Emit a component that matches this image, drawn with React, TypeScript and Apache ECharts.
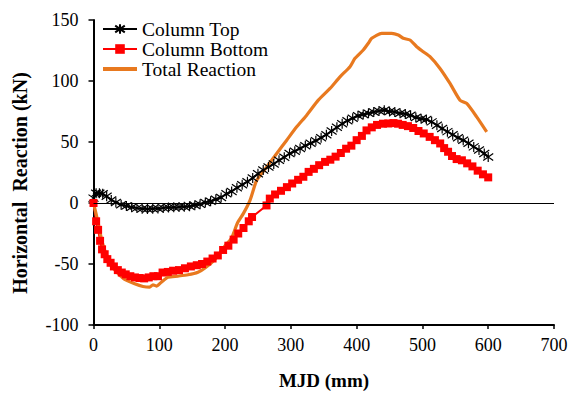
import React, { useEffect, useRef } from "react";
import * as echarts from "echarts";

const seriesNames = ["Column Top", "Column Bottom", "Total Reaction"];
const xAxisTitle = "MJD (mm)";
const yAxisTitle = "Horizontal  Reaction (kN)";

const columnTop: [number, number][] = [
  [0, 4], [4, 8], [9, 8], [14, 7.5], [20, 5.5], [27, 2.5], [34, 0.5], [42, -1.5],
  [50, -2.5], [58, -3.5], [66, -4.2], [74, -4.7], [82, -5], [90, -4.8], [98, -4.5],
  [106, -4], [114, -3.6], [122, -3.4], [130, -3.3], [138, -3.1], [146, -2.6],
  [154, -1.8], [162, -1], [170, 0.5], [178, 1.5], [186, 3], [194, 4.5], [202, 7.5],
  [210, 9.5], [218, 12.5], [226, 15], [234, 17.5], [242, 20.5], [250, 24], [258, 27],
  [266, 29.5], [274, 32], [282, 35], [290, 37.5], [298, 40.5], [306, 42.5],
  [314, 44.7], [322, 47], [330, 49], [338, 51], [346, 53.5], [354, 56], [362, 59],
  [370, 62], [378, 65], [386, 67.5], [394, 69.5], [402, 71.5], [410, 72.5],
  [418, 73.5], [426, 74.5], [434, 75.5], [442, 76], [450, 75], [458, 74.5],
  [466, 73.5], [474, 73], [482, 72], [490, 70], [498, 69], [506, 68.5], [514, 66.5],
  [522, 63.8], [530, 61], [538, 58.5], [546, 56], [554, 53.5], [562, 51.5],
  [570, 49], [578, 46], [586, 43.5], [594, 40.5], [600, 37.8],
];

const columnBottom: [number, number][] = [
  [0, 0], [4, -15], [7, -22], [10, -31], [13, -38], [17, -42], [21, -46], [26, -49],
  [31, -52], [37, -55], [43, -57], [49, -58.5], [56, -60], [63, -61], [70, -61.5],
  [77, -61.8], [84, -61], [91, -60], [98, -60], [105, -57], [113, -56.5],
  [121, -55.5], [130, -55], [139, -53.5], [148, -52], [157, -51], [165, -50],
  [173, -48], [181, -45.5], [189, -43], [197, -38.5], [205, -35], [213, -30],
  [220, -25], [228, -20.5], [236, -15], [241, -11.5], [263, -2], [268, 3.6],
  [276, 7], [285, 10], [294, 13], [302, 16], [311, 19], [319, 21.5], [327, 25.5],
  [335, 28], [343, 31], [352, 33.7], [360, 35.5], [368, 38], [376, 41], [384, 44.5],
  [392, 47], [400, 51.5], [408, 55], [415, 59.5], [423, 62], [431, 64], [440, 65],
  [448, 65.2], [456, 65.5], [463, 65], [470, 64], [478, 63], [486, 61.5], [494, 59],
  [502, 57], [511, 54.2], [519, 51.5], [527, 48.8], [533, 45], [539, 42],
  [545, 38.5], [552, 36], [560, 35], [568, 32.5], [576, 30], [584, 26.5],
  [592, 23.5], [600, 21],
];

const totalReaction: [number, number][] = [
  [0, 0], [6.8, -15.6], [11.9, -29], [17, -38.8], [27.1, -51.1], [37.2, -57.7],
  [47.4, -62.6], [62.6, -66.2], [75.2, -68.4], [85.4, -69], [90.4, -67],
  [95.5, -68.1], [103.1, -64.9], [113.2, -60.8], [128.4, -59.9], [143.6, -58.8],
  [158.8, -56.7], [170, -53], [185, -46], [200, -35], [209.5, -29.2], [219, -16.2],
  [227.7, -8.7], [237.9, 2.2], [248.1, 18.6], [263.3, 29.6], [278.5, 40.6],
  [293.7, 51.5], [308.9, 62.4], [324.1, 72], [341.7, 84.3], [359.5, 93.9],
  [374.7, 103.4], [389.9, 111.7], [397.5, 118.6], [410.1, 125.4], [417.7, 130.9],
  [422.9, 135], [438.1, 139.1], [453.3, 139.1], [463.3, 137.7], [470.9, 135],
  [481.1, 133.6], [491.3, 128.1], [501.3, 124], [511.5, 119.9], [526.7, 110.3],
  [541.9, 98], [557.1, 84.3], [567.3, 81.6], [582.5, 70.6], [597.7, 58.3],
];

const FONT = "Liberation Serif";
const STAR = "path://M5,0L5,10M1.5,1.5L8.5,8.5M1.5,8.5L8.5,1.5";

export default function App() {
  const ref = useRef<HTMLDivElement>(null);
  useEffect(() => {
    const chart = echarts.init(ref.current!, null, { renderer: "svg" });
    chart.setOption({
      animation: false,
      backgroundColor: "#fff",
      textStyle: { fontFamily: FONT },
      grid: { left: 93.5, right: 19, top: 20, bottom: 71 },
      legend: {
        orient: "vertical",
        left: 101,
        top: 19,
        padding: 0,
        itemWidth: 34,
        itemHeight: 12,
        itemGap: 0,
        data: [
          { name: seriesNames[0], lineStyle: { width: 2 } },
          { name: seriesNames[1], lineStyle: { width: 2 } },
          {
            name: seriesNames[2],
            lineStyle: { width: 4 },
            itemStyle: { color: "rgba(0,0,0,0)", opacity: 0, borderWidth: 0 },
          },
        ],
        textStyle: { fontFamily: FONT, fontSize: 19.5, color: "#000", lineHeight: 20 },
      },
      xAxis: {
        type: "value",
        min: 0,
        max: 700,
        interval: 100,
        axisLine: { show: true, onZero: false, lineStyle: { color: "#000", width: 2 } },
        axisTick: { show: true, length: 4, lineStyle: { color: "#000", width: 1.5 } },
        axisLabel: { fontFamily: FONT, fontSize: 18, color: "#000", margin: 11 },
        splitLine: { show: false },
      },
      yAxis: {
        type: "value",
        min: -100,
        max: 150,
        interval: 50,
        axisLine: { show: true, onZero: false, lineStyle: { color: "#000", width: 2 } },
        axisTick: { show: true, length: 5, lineStyle: { color: "#000", width: 1.5 } },
        axisLabel: { fontFamily: FONT, fontSize: 18, color: "#000", margin: 15 },
        splitLine: { show: false },
      },
      graphic: [
        {
          type: "text",
          x: 324,
          y: 380,
          style: {
            text: xAxisTitle,
            fontFamily: FONT,
            fontSize: 19,
            fontWeight: "bold",
            fill: "#000",
            textAlign: "center",
            textVerticalAlign: "middle",
          },
        },
        {
          type: "text",
          x: 20,
          y: 183,
          rotation: Math.PI / 2,
          style: {
            text: yAxisTitle,
            fontFamily: FONT,
            fontSize: 20,
            fontWeight: "bold",
            fill: "#000",
            textAlign: "center",
            textVerticalAlign: "middle",
          },
        },
      ],
      series: [
        {
          name: seriesNames[0],
          type: "line",
          data: columnTop,
          symbol: STAR,
          symbolSize: 10,
          showAllSymbol: true,
          lineStyle: { color: "#000", width: 2 },
          itemStyle: { color: "#000", borderColor: "#000", borderWidth: 1.2 },
          markLine: {
            silent: true,
            symbol: ["none", "none"],
            label: { show: false },
            lineStyle: { color: "#000", width: 1, type: "solid" },
            data: [{ yAxis: 0 }],
          },
        },
        {
          name: seriesNames[1],
          type: "line",
          data: columnBottom,
          symbol: "rect",
          symbolSize: 8,
          showAllSymbol: true,
          lineStyle: { color: "#FF0000", width: 2 },
          itemStyle: { color: "#FF0000" },
        },
        {
          name: seriesNames[2],
          type: "line",
          data: totalReaction,
          symbol: "none",
          smooth: 0.2,
          lineStyle: { color: "#E8791F", width: 3.2 },
          itemStyle: { color: "#E8791F" },
        },
      ],
    });
    return () => chart.dispose();
  }, []);
  return (
    <div
      ref={ref}
      style={{ position: "absolute", left: 0, top: 0, width: 573, height: 396 }}
    />
  );
}
